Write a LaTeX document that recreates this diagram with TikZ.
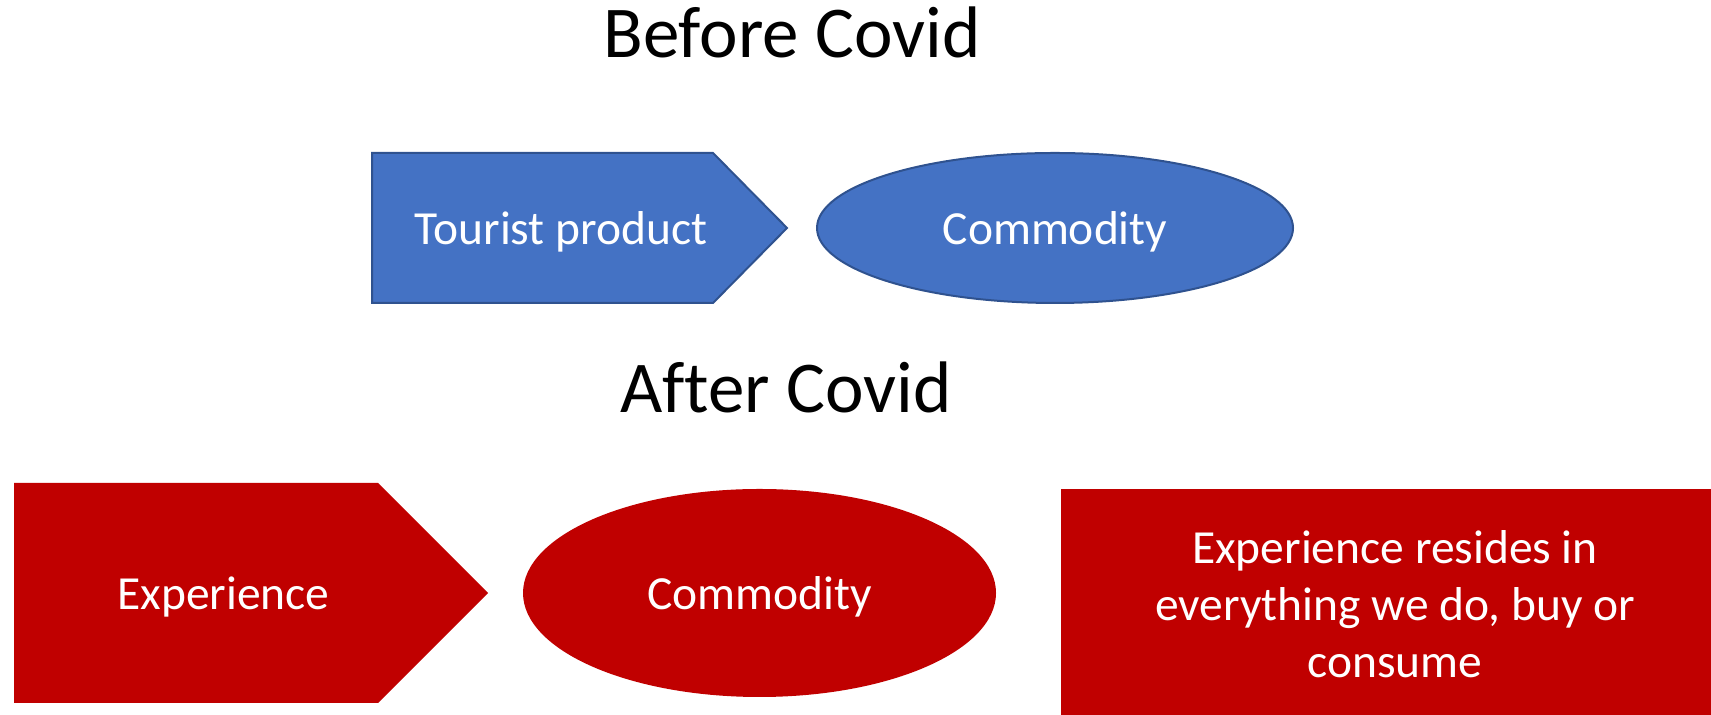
\documentclass[tikz,border=0pt]{standalone}
\usepackage{fontspec}
\setmainfont{Carlito}[Ligatures=NoCommon]
\definecolor{covidblue}{HTML}{4472C4}
\definecolor{covidbluedark}{HTML}{2F528F}
\definecolor{covidred}{HTML}{C00000}

\begin{document}
\begin{tikzpicture}[x=0.5pt,y=0.5pt,
    heading/.style={font=\fontsize{36.5}{44}\selectfont, anchor=base},
    boxtext/.style={text=white, font=\fontsize{23.75}{28.5}\selectfont, anchor=base},
    before/.style={fill=covidblue, draw=covidbluedark, line width=1pt},
    after/.style={fill=covidred}]
  \useasboundingbox (0,0) rectangle (1711,715);

  % before covid
  \node[heading] (before) at (792,657) {Before Covid};
  \draw[before] (372,562) -- (713,562) -- (787,487) -- (713,412) -- (372,412) -- cycle;
  \node[boxtext] (tourist) at (561,470) {Tourist product};
  \draw[before] (1055,487) ellipse [x radius=238, y radius=75];
  \node[boxtext] (commodity1) at (1055,470) {Commodity};

  % after covid
  \node[heading] (after) at (786,302) {After Covid};
  \fill[after] (14,232) -- (378,232) -- (488,122) -- (378,12) -- (14,12) -- cycle;
  \node[boxtext] (experience) at (223.5,105) {Experience};
  \fill[after] (759.5,122) ellipse [x radius=236.5, y radius=104];
  \node[boxtext] (commodity2) at (759.5,105) {Commodity};
  \fill[after] (1061,226) rectangle (1711,0);
  \node[boxtext, anchor=center, align=center] (resides) at (1395,111)
    {Experience resides in\\everything we do, buy or\\consume};
\end{tikzpicture}
\end{document}
